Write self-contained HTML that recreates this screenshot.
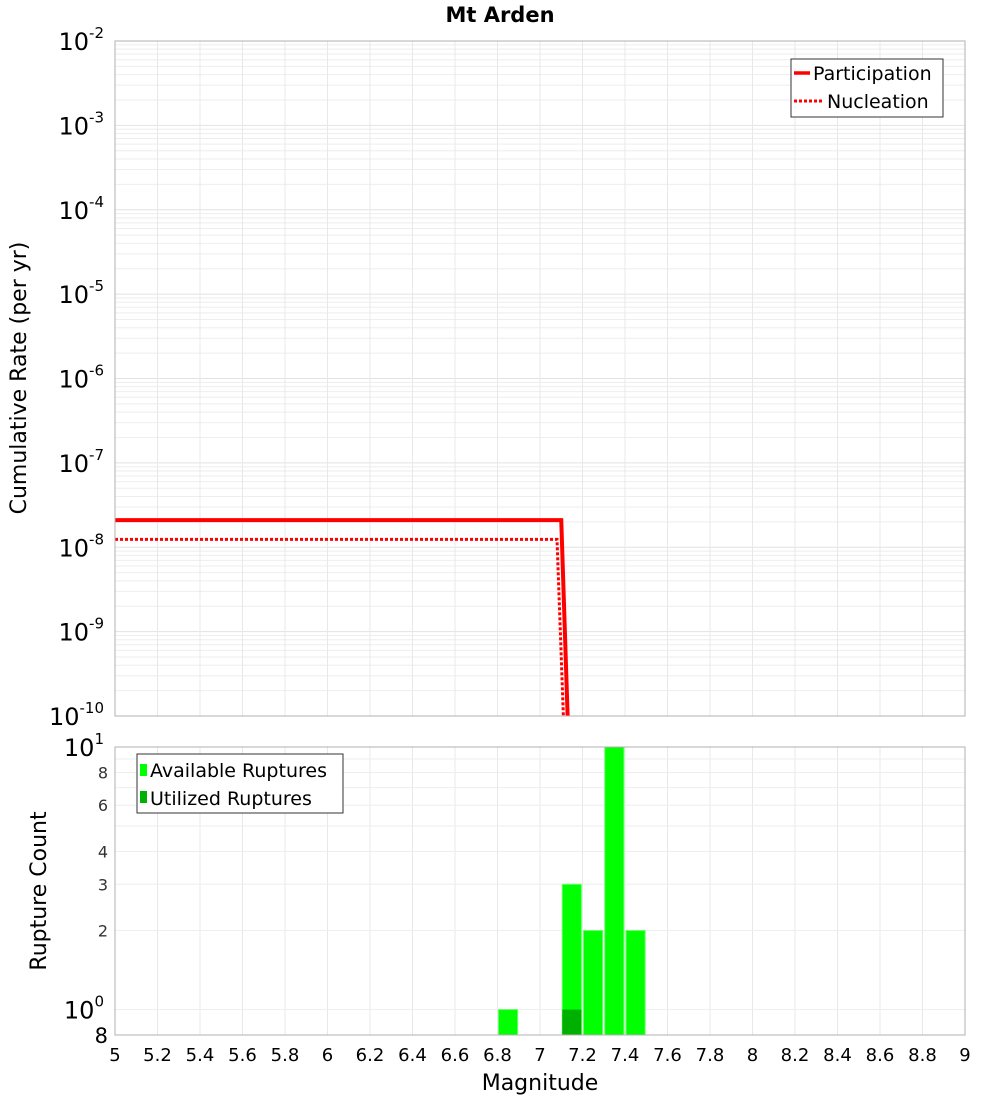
<!DOCTYPE html>
<html><head><meta charset="utf-8"><style>
body{margin:0;background:#fff;font-family:"Liberation Sans","DejaVu Sans",sans-serif}
svg text{font-family:"DejaVu Sans","Liberation Sans",sans-serif}
</style></head><body>
<svg id="c" width="1000" height="1100" xmlns="http://www.w3.org/2000/svg">
<text x="500" y="22" text-anchor="middle" font-size="21" font-weight="bold">Mt Arden</text>
<g id="topg"></g>
<g id="botg"></g>
<text transform="translate(26,378) rotate(-90)" text-anchor="middle" font-size="22">Cumulative Rate (per yr)</text>
<text transform="translate(46,891) rotate(-90)" text-anchor="middle" font-size="22">Rupture Count</text>
<text x="540" y="1090" text-anchor="middle" font-size="22">Magnitude</text>
<g>
<rect x="791" y="59" width="152" height="58" fill="#fff" stroke="#333"/>
<line x1="794" y1="73" x2="810" y2="73" stroke="red" stroke-width="3.5"/>
<text x="813" y="80" font-size="19">Participation</text>
<line x1="794" y1="101" x2="822" y2="101" stroke="red" stroke-width="3" stroke-dasharray="3,2"/>
<text x="827" y="108" font-size="19">Nucleation</text>
</g>
<g>
<rect x="137" y="754" width="206" height="59" fill="#fff" stroke="#333"/>
<rect x="140" y="764" width="7" height="12" fill="#00ff00"/>
<text x="150" y="777" font-size="19">Available Ruptures</text>
<rect x="140" y="791" width="7" height="12" fill="#00b000"/>
<text x="150" y="805" font-size="19">Utilized Ruptures</text>
</g>
</svg>
<script>
const partMag=[5,7.1,7.13];
const partRate=[2.1e-8,2.1e-8,1e-10];
const nuclMag=[5,7.08,7.11];
const nuclRate=[1.24e-8,1.24e-8,1e-10];
const binMag=[6.8,7.1,7.2,7.3,7.4];
const availCount=[1,3,2,10,2];
const usedMag=[7.1];
const usedCount=[1];
const xTicks=[5,5.2,5.4,5.6,5.8,6,6.2,6.4,6.6,6.8,7,7.2,7.4,7.6,7.8,8,8.2,8.4,8.6,8.8,9];
const topExp=[-2,-3,-4,-5,-6,-7,-8,-9,-10];
const botTicks=[2,3,4,6,8];

const NS="http://www.w3.org/2000/svg";
const X0=115,X1=965;
const x=m=>X0+(m-5)/4*(X1-X0);
const T0=41,T1=716;
const yTop=v=>T0+(-2-Math.log10(v))/8*(T1-T0);
const B0=747,B1=1035;
const yBot=v=>B0+(1-Math.log10(v))/(1-Math.log10(0.8))*(B1-B0);
function el(p,tag,a){const e=document.createElementNS(NS,tag);for(const k in a)e.setAttribute(k,a[k]);p.appendChild(e);return e;}
const topG=document.getElementById('topg'),botG=document.getElementById('botg');
for(let d=-10;d<-2;d++)for(let k=1;k<10;k++){const y=yTop(k*Math.pow(10,d));
 const l=el(topG,'line',{x1:X0,x2:X1,y1:y,y2:y,stroke:k==1?'#e2e2e2':'#eeeeee','stroke-width':1});
 
 }
xTicks.forEach(m=>{const l=el(topG,'line',{x1:x(m),x2:x(m),y1:T0,y2:T1,stroke:'#e8e8e8'});
 
 
 const l2=el(botG,'line',{x1:x(m),x2:x(m),y1:B0,y2:B1,stroke:'#e8e8e8'});
 
 });
[1,2,3,4,5,6,7,8,9,10].forEach(v=>{const y=yBot(v);const l=el(botG,'line',{x1:X0,x2:X1,y1:y,y2:y,stroke:'#eeeeee'});
 
 });
topExp.forEach(e=>{const t=el(topG,'text',{x:104,y:yTop(Math.pow(10,e))+9,'text-anchor':'end','font-size':24});
 
 
 t.textContent='10';const s=el(t,'tspan',{dy:-12,'font-size':15});s.textContent=e;});
const pp=partMag.map((m,i)=>x(m)+','+yTop(partRate[i])).join(' ');
const pl=el(topG,'polyline',{points:pp,fill:'none',stroke:'red','stroke-width':4});


const np=nuclMag.map((m,i)=>x(m)+','+yTop(nuclRate[i])).join(' ');
const nl=el(topG,'polyline',{points:np,fill:'none',stroke:'red','stroke-width':3,'stroke-dasharray':'3,2'});


el(topG,'rect',{x:X0,y:T0,width:X1-X0,height:T1-T0,fill:'none',stroke:'#b0b0b0'});
const bw=(x(5.1)-x(5))*0.9;
binMag.forEach((m,i)=>{const y=yBot(availCount[i]);
 const r=el(botG,'rect',{x:x(m)+1,y:y,width:bw,height:B1-y,fill:'#00ff00',stroke:'#66ff66','stroke-width':1});
 
 });
usedMag.forEach((m,i)=>{const y=yBot(usedCount[i]);
 const r=el(botG,'rect',{x:x(m)+1,y:y,width:bw,height:B1-y,fill:'#00b000'});
 
 });
el(botG,'rect',{x:X0,y:B0,width:X1-X0,height:B1-B0,fill:'none',stroke:'#b0b0b0'});
[[10,'1'],[1,'0']].forEach(([v,e])=>{const t=el(botG,'text',{x:104,y:yBot(v)+9,'text-anchor':'end','font-size':24});
 
 
 t.textContent='10';const s=el(t,'tspan',{dy:-12,'font-size':15});s.textContent=e;});
botTicks.forEach(v=>{const t=el(botG,'text',{x:108,y:yBot(v)+6,'text-anchor':'end','font-size':16,fill:'#333'});
 
 
 t.textContent=v;});
const t8=el(botG,'text',{x:108,y:B1+8,'text-anchor':'end','font-size':21});


t8.textContent='8';
xTicks.forEach(m=>{const t=el(botG,'text',{x:x(m),y:1061,'text-anchor':'middle','font-size':18});
 
 
 t.textContent=String(m);});
</script>
</body></html>
